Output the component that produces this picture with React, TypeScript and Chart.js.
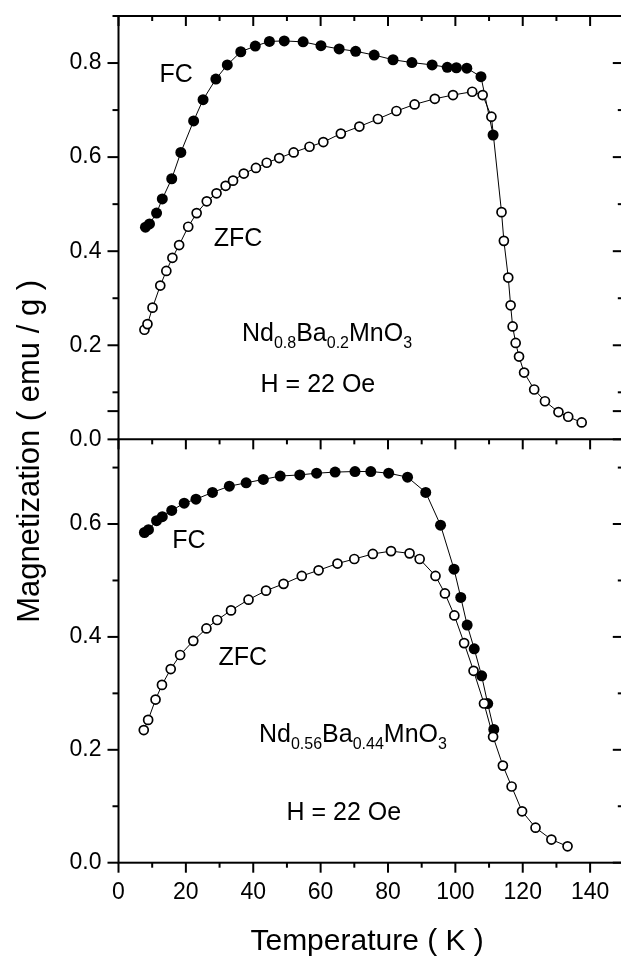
import React, { useEffect, useRef } from 'react';
import { Chart, registerables } from 'chart.js';

Chart.register(...registerables);

// ---------- data (Temperature in K, Magnetization in emu/g) ----------
const topFcT = [8.0, 9.2, 11.3, 13.0, 15.8, 18.5, 22.3, 25.1, 28.9, 32.3, 36.3, 40.6, 44.8, 49.2, 54.8, 60.1, 65.5, 70.4, 75.9, 81.5, 87.1, 93.1, 97.6, 100.3, 103.4, 107.6, 111.2];
const topFcM = [0.451, 0.458, 0.481, 0.511, 0.554, 0.610, 0.677, 0.722, 0.766, 0.796, 0.824, 0.836, 0.846, 0.847, 0.845, 0.837, 0.830, 0.825, 0.817, 0.807, 0.801, 0.796, 0.791, 0.790, 0.789, 0.771, 0.647];

const topZfcT = [7.7, 8.6, 10.1, 12.4, 14.2, 16.0, 18.0, 20.7, 23.2, 26.2, 29.1, 31.8, 34.0, 37.2, 40.8, 44.0, 47.7, 52.0, 56.7, 60.8, 66.0, 71.5, 77.0, 82.5, 87.9, 93.9, 99.3, 105.0, 108.1, 110.7, 113.7, 114.4, 115.7, 116.4, 117.0, 117.9, 118.9, 120.4, 123.4, 126.6, 130.6, 133.5, 137.5];
const topZfcM = [0.233, 0.245, 0.280, 0.327, 0.358, 0.386, 0.413, 0.452, 0.481, 0.506, 0.523, 0.539, 0.550, 0.565, 0.577, 0.588, 0.598, 0.610, 0.622, 0.632, 0.650, 0.665, 0.681, 0.698, 0.712, 0.724, 0.732, 0.739, 0.732, 0.686, 0.483, 0.422, 0.344, 0.285, 0.240, 0.205, 0.176, 0.142, 0.106, 0.081, 0.058, 0.048, 0.036];

const botFcT = [7.7, 8.9, 11.3, 13.0, 15.8, 19.5, 23.0, 27.9, 32.9, 37.9, 43.0, 48.0, 53.8, 58.8, 64.3, 70.2, 74.9, 80.2, 85.8, 91.2, 95.6, 99.6, 101.6, 103.5, 105.6, 107.8, 109.6, 111.4];
const botFcM = [0.585, 0.590, 0.606, 0.613, 0.624, 0.637, 0.644, 0.656, 0.667, 0.673, 0.679, 0.685, 0.687, 0.690, 0.692, 0.693, 0.693, 0.690, 0.683, 0.656, 0.598, 0.520, 0.470, 0.421, 0.379, 0.331, 0.282, 0.236];

const botZfcT = [7.5, 8.8, 11.0, 12.9, 15.5, 18.3, 22.2, 26.1, 29.3, 33.4, 38.6, 43.8, 49.0, 54.4, 59.4, 65.0, 70.0, 75.5, 80.9, 86.4, 89.4, 94.1, 96.9, 99.7, 102.6, 105.4, 108.5, 111.2, 114.1, 116.7, 119.8, 123.8, 128.5, 133.3];
const botZfcM = [0.235, 0.253, 0.289, 0.315, 0.343, 0.368, 0.393, 0.415, 0.430, 0.447, 0.466, 0.482, 0.494, 0.508, 0.518, 0.530, 0.538, 0.547, 0.552, 0.548, 0.538, 0.508, 0.477, 0.438, 0.389, 0.340, 0.282, 0.223, 0.172, 0.135, 0.091, 0.062, 0.041, 0.029];

// axis ranges / ticks
const xMin = 0;
const xMax = 150;
const xStep = 10;
const xLabelEvery = 20;
const yTopMax = 0.9;
const yBotMax = 0.75;
const yStep = 0.1;

const xTitle = 'Temperature ( K )';
const yTitle = 'Magnetization ( emu / g )';

// annotation texts: [panel, T, M(baseline), segments] ; segment [text, isSub]
type Seg = [string, boolean];
const annotations: { panel: 'top' | 'bot'; t: number; m: number; segs: Seg[] }[] = [
  { panel: 'top', t: 17.1, m: 0.759, segs: [['FC', false]] },
  { panel: 'top', t: 35.5, m: 0.412, segs: [['ZFC', false]] },
  { panel: 'top', t: 61.9, m: 0.210, segs: [['Nd', false], ['0.8', true], ['Ba', false], ['0.2', true], ['MnO', false], ['3', true]] },
  { panel: 'top', t: 59.2, m: 0.100, segs: [['H = 22 Oe', false]] },
  { panel: 'bot', t: 20.9, m: 0.557, segs: [['FC', false]] },
  { panel: 'bot', t: 36.9, m: 0.350, segs: [['ZFC', false]] },
  { panel: 'bot', t: 69.6, m: 0.214, segs: [['Nd', false], ['0.56', true], ['Ba', false], ['0.44', true], ['MnO', false], ['3', true]] },
  { panel: 'bot', t: 66.9, m: 0.076, segs: [['H = 22 Oe', false]] },
];

const FONT = "'Liberation Sans', Arial, Helvetica, sans-serif";

const toPts = (t: number[], m: number[]) => t.map((x, i) => ({ x, y: m[i] }));

const framePlugin = {
  id: 'framePlugin',
  afterDraw(chart: any) {
    const ctx = chart.ctx as CanvasRenderingContext2D;
    const ca = chart.chartArea;
    const sx = chart.scales.x;
    const yT = chart.scales.yTop;
    const yB = chart.scales.yBot;
    const midY = yT.getPixelForValue(0);
    ctx.save();
    ctx.strokeStyle = '#000';
    ctx.lineWidth = 2;
    ctx.lineCap = 'butt';
    // frame + middle separator
    ctx.strokeRect(ca.left, ca.top, ca.right - ca.left, ca.bottom - ca.top);
    ctx.beginPath();
    ctx.moveTo(ca.left - 1, midY);
    ctx.lineTo(ca.right + 1, midY);
    ctx.stroke();

    const line = (x1: number, y1: number, x2: number, y2: number) => {
      ctx.beginPath();
      ctx.moveTo(x1, y1);
      ctx.lineTo(x2, y2);
      ctx.stroke();
    };
    const MAJ = 10;
    const MIN = 5;
    // x ticks
    for (let v = xMin; v <= xMax + 1e-9; v += xStep) {
      const px = sx.getPixelForValue(v);
      const len = v % xLabelEvery === 0 ? MAJ : MIN;
      line(px, ca.top, px, ca.top + len);
      line(px, midY, px, midY + len);
      line(px, ca.bottom, px, ca.bottom + len);
    }
    // y ticks
    const yTicks = (sc: any, max: number) => {
      const n = Math.round(max / yStep);
      for (let k = 0; k <= n; k++) {
        const py = sc.getPixelForValue(k * yStep);
        const len = k % 2 === 0 ? MAJ + 1 : MIN + 1;
        line(ca.left - len, py, ca.left, py);
        line(ca.right - len, py, ca.right, py);
      }
    };
    yTicks(yT, yTopMax);
    yTicks(yB, yBotMax);

    // annotations
    ctx.fillStyle = '#000';
    ctx.textBaseline = 'alphabetic';
    const mainF = `25px ${FONT}`;
    const subF = `16px ${FONT}`;
    for (const a of annotations) {
      const sc = a.panel === 'top' ? yT : yB;
      const cx = sx.getPixelForValue(a.t);
      const by = sc.getPixelForValue(a.m);
      let w = 0;
      for (const [t, sub] of a.segs) {
        ctx.font = sub ? subF : mainF;
        w += ctx.measureText(t).width;
      }
      let x = cx - w / 2;
      ctx.textAlign = 'left';
      for (const [t, sub] of a.segs) {
        ctx.font = sub ? subF : mainF;
        ctx.fillText(t, x, sub ? by + 7.5 : by);
        x += ctx.measureText(t).width;
      }
    }

    // axis titles
    ctx.font = `30px ${FONT}`;
    ctx.textAlign = 'center';
    ctx.textBaseline = 'alphabetic';
    ctx.fillText(xTitle, (sx.getPixelForValue(xMin) + sx.getPixelForValue(xMax)) / 2 - 4, ca.bottom + 87);
    ctx.save();
    ctx.translate(30, (ca.top + ca.bottom) / 2 + 12);
    ctx.rotate(-Math.PI / 2);
    ctx.font = `31px ${FONT}`;
    ctx.textBaseline = 'middle';
    ctx.fillText(yTitle, 0, 0);
    ctx.restore();
    ctx.restore();
  },
};

const yLabel = (value: any) => {
  const v = Number(value);
  const k = Math.round(v * 10);
  if (Math.abs(v * 10 - k) > 1e-6 || k % 2 !== 0) return '';
  return (k / 10).toFixed(1);
};

const fitY = (s: any) => {
  s.width = 118.5;
  s.paddingTop = 0;
  s.paddingBottom = 0;
  s.paddingLeft = 0;
  s.paddingRight = 0;
};

const fitX = (s: any) => {
  s.height = 93.3;
  s.paddingTop = 0;
  s.paddingBottom = 0;
  s.paddingLeft = 0;
  s.paddingRight = 0;
};

export default function App() {
  const ref = useRef<HTMLCanvasElement | null>(null);
  useEffect(() => {
    if (!ref.current) return;
    const fcStyle = {
      borderColor: '#000',
      borderWidth: 1,
      pointRadius: 5.5,
      pointBackgroundColor: '#000',
      pointBorderColor: '#000',
      pointBorderWidth: 0,
      showLine: true,
      fill: false,
      tension: 0,
      order: 1,
    };
    const zfcStyle = {
      borderColor: '#000',
      borderWidth: 1,
      pointRadius: 4.5,
      pointBackgroundColor: '#fff',
      pointBorderColor: '#000',
      pointBorderWidth: 1.7,
      showLine: true,
      fill: false,
      tension: 0,
      order: 0,
    };
    const tickFont = { family: FONT, size: 23 };
    const chart = new Chart(ref.current, {
      type: 'line',
      data: {
        datasets: [
          { label: 'FC top', data: toPts(topFcT, topFcM), xAxisID: 'x', yAxisID: 'yTop', ...fcStyle },
          { label: 'ZFC top', data: toPts(topZfcT, topZfcM), xAxisID: 'x', yAxisID: 'yTop', ...zfcStyle },
          { label: 'FC bottom', data: toPts(botFcT, botFcM), xAxisID: 'x', yAxisID: 'yBot', ...fcStyle },
          { label: 'ZFC bottom', data: toPts(botZfcT, botZfcM), xAxisID: 'x', yAxisID: 'yBot', ...zfcStyle },
        ] as any,
      },
      options: {
        animation: false,
        responsive: false,
        devicePixelRatio: 1,
        layout: { padding: { left: 0, right: 6, top: 16, bottom: 0 } },
        plugins: { legend: { display: false }, tooltip: { enabled: false } },
        scales: {
          x: {
            type: 'linear',
            position: 'bottom',
            min: xMin,
            max: xMax,
            grid: { display: false, drawTicks: false },
            border: { display: false },
            ticks: {
              stepSize: xStep,
              autoSkip: false,
              maxRotation: 0,
              padding: 16,
              color: '#000',
              font: tickFont,
              callback: (v: any) => (Number(v) % xLabelEvery === 0 ? String(v) : ''),
            },
            afterFit: fitX,
          },
          yBot: {
            type: 'linear',
            position: 'left',
            stack: 'mag',
            stackWeight: 1,
            min: 0,
            max: yBotMax,
            grid: { display: false, drawTicks: false },
            border: { display: false },
            ticks: { stepSize: yStep, autoSkip: false, padding: 17, color: '#000', font: tickFont, callback: yLabel },
            afterFit: fitY,
          },
          yTop: {
            type: 'linear',
            position: 'left',
            stack: 'mag',
            stackWeight: 1,
            min: 0,
            max: yTopMax,
            grid: { display: false, drawTicks: false },
            border: { display: false },
            ticks: { stepSize: yStep, autoSkip: false, padding: 17, color: '#000', font: tickFont, callback: yLabel },
            afterFit: fitY,
          },
        },
      } as any,
      plugins: [framePlugin],
    });
    return () => chart.destroy();
  }, []);
  return (
    <div style={{ position: 'fixed', left: 0, top: 0, width: 621, height: 956, overflow: 'hidden', background: '#fff' }}>
      <canvas ref={ref} width={630} height={956} style={{ width: 630, height: 956, display: 'block' }} />
    </div>
  );
}
